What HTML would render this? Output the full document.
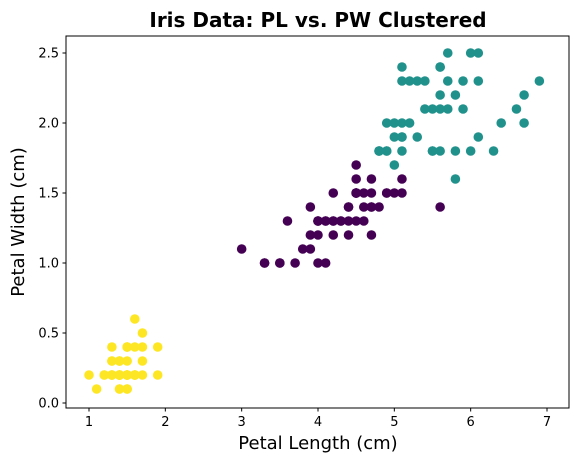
<!DOCTYPE html>
<html><head><meta charset="utf-8"><style>
body{margin:0;background:#fff;}
svg{display:block;font-family:"DejaVu Sans","Liberation Sans",sans-serif;}
</style></head><body>
<svg id="chart" width="572" height="464">
<text x="318" y="27" text-anchor="middle" font-size="20" font-weight="bold">Iris Data: PL vs. PW Clustered</text>
<g id="points"></g>
<rect x="66" y="36" width="503" height="372" fill="none" stroke="#000" stroke-width="1"/>
<g id="xt"></g>
<g id="yt"></g>
<text x="318" y="449" text-anchor="middle" font-size="18">Petal Length (cm)</text>
<text transform="translate(24,222) rotate(-90)" text-anchor="middle" font-size="18">Petal Width (cm)</text>
</svg>
<script>
const petalLength=[1.4,1.4,1.3,1.5,1.4,1.7,1.4,1.5,1.4,1.5,1.5,1.6,1.4,1.1,1.2,1.5,1.3,1.4,1.7,1.5,1.7,1.5,1.0,1.7,1.9,1.6,1.6,1.5,1.4,1.6,1.6,1.5,1.5,1.4,1.5,1.2,1.3,1.4,1.3,1.5,1.3,1.3,1.3,1.6,1.9,1.4,1.6,1.4,1.5,1.4,
4.7,4.5,4.9,4.0,4.6,4.5,4.7,3.3,4.6,3.9,3.5,4.2,4.0,4.7,3.6,4.4,4.5,4.1,4.5,3.9,4.8,4.0,4.9,4.7,4.3,4.4,4.8,5.0,4.5,3.5,3.8,3.7,3.9,5.1,4.5,4.5,4.7,4.4,4.1,4.0,4.4,4.6,4.0,3.3,4.2,4.2,4.2,4.3,3.0,4.1,
6.0,5.1,5.9,5.6,5.8,6.6,4.5,6.3,5.8,6.1,5.1,5.3,5.5,5.0,5.1,5.3,5.5,6.7,6.9,5.0,5.7,4.9,6.7,4.9,5.7,6.0,4.8,4.9,5.6,5.8,6.1,6.4,5.6,5.1,5.6,6.1,5.6,5.5,4.8,5.4,5.6,5.1,5.1,5.9,5.7,5.2,5.0,5.2,5.4,5.1];
const petalWidth=[.2,.2,.2,.2,.2,.4,.3,.2,.2,.1,.2,.2,.1,.1,.2,.4,.4,.3,.3,.3,.2,.4,.2,.5,.2,.2,.4,.2,.2,.2,.2,.4,.1,.2,.2,.2,.2,.1,.2,.2,.3,.3,.2,.6,.4,.3,.2,.2,.2,.2,
1.4,1.5,1.5,1.3,1.5,1.3,1.6,1.0,1.3,1.4,1.0,1.5,1.0,1.4,1.3,1.4,1.5,1.0,1.5,1.1,1.8,1.3,1.5,1.2,1.3,1.4,1.4,1.7,1.5,1.0,1.1,1.0,1.2,1.6,1.5,1.6,1.5,1.3,1.3,1.3,1.2,1.4,1.2,1.0,1.3,1.2,1.3,1.3,1.1,1.3,
2.5,1.9,2.1,1.8,2.2,2.1,1.7,1.8,1.8,2.5,2.0,1.9,2.1,2.0,2.4,2.3,1.8,2.2,2.3,1.5,2.3,2.0,2.0,1.8,2.1,1.8,1.8,1.8,2.1,1.6,1.9,2.0,2.2,1.5,1.4,2.3,2.4,1.8,1.8,2.1,2.4,2.3,1.9,2.3,2.5,2.3,1.9,2.0,2.3,1.8];
// cluster per point: 2=yellow (first 50), 0=purple (51-100), 1=teal (101-150), with exceptions (0-based index)
const toTeal=[70,77];
const toPurple=[106,119,133,134];
const clusterLabels=petalLength.map((_,i)=>{
  if(toTeal.includes(i))return 1;
  if(toPurple.includes(i))return 0;
  return i<50?2:(i<100?0:1);
});
const clusterColors=["#440154","#21918c","#fde725"];
const xTicks=[1,2,3,4,5,6,7];
const yTicks=[0.0,0.5,1.0,1.5,2.0,2.5];
const xs=v=>89+(v-1)*76.333;
const ys=v=>403-v*140;
const NS="http://www.w3.org/2000/svg";
const pg=document.getElementById('points');
petalLength.forEach((l,i)=>{
  const c=document.createElementNS(NS,'circle');
  c.setAttribute('cx',xs(l));c.setAttribute('cy',ys(petalWidth[i]));c.setAttribute('r',4.8);
  c.setAttribute('fill',clusterColors[clusterLabels[i]]);
  
  
  pg.appendChild(c);
});
const xt=document.getElementById('xt');
xTicks.forEach(t=>{
  const x=xs(t);
  const ln=document.createElementNS(NS,'line');
  ln.setAttribute('x1',x);ln.setAttribute('x2',x);ln.setAttribute('y1',408);ln.setAttribute('y2',411.5);ln.setAttribute('stroke','#000');
  
  
  xt.appendChild(ln);
  const tx=document.createElementNS(NS,'text');
  tx.setAttribute('x',x);tx.setAttribute('y',426);tx.setAttribute('text-anchor','middle');tx.setAttribute('font-size','13');
  tx.textContent=t;
  
  
  xt.appendChild(tx);
});
const yt=document.getElementById('yt');
yTicks.forEach(t=>{
  const y=ys(t);
  const ln=document.createElementNS(NS,'line');
  ln.setAttribute('x1',62.5);ln.setAttribute('x2',66);ln.setAttribute('y1',y);ln.setAttribute('y2',y);ln.setAttribute('stroke','#000');
  
  
  yt.appendChild(ln);
  const tx=document.createElementNS(NS,'text');
  tx.setAttribute('x',59);tx.setAttribute('y',y+4.5);tx.setAttribute('text-anchor','end');tx.setAttribute('font-size','13');
  tx.textContent=t.toFixed(1);
  
  
  yt.appendChild(tx);
});
</script>
</body></html>
